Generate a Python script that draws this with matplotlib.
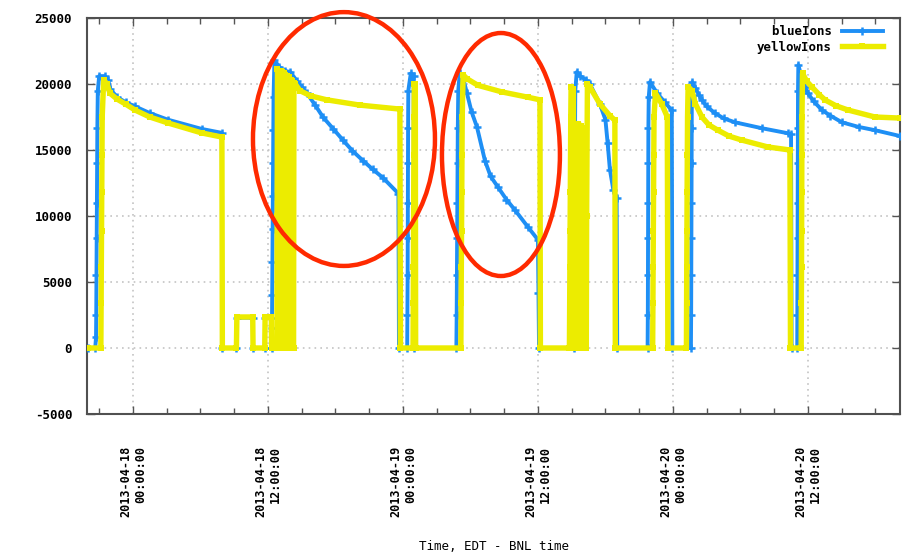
#!/usr/bin/env python3
"""blueIons / yellowIons vs time, 2013-04-17 .. 2013-04-20 (gnuplot-style logger plot)."""
import numpy as np
import matplotlib
matplotlib.use('Agg')
import matplotlib.pyplot as plt
import matplotlib.dates as mdates
from matplotlib.patches import Ellipse

plt.rcParams.update({
    'font.family': ['DejaVu Sans Mono', 'DejaVu Sans'],
    'font.weight': 'bold',
    'axes.unicode_minus': False,
})

# time axis: hours after 2013-04-18 00:00 EDT
T0 = np.datetime64('2013-04-18T00:00:00')
X_START, X_END = -4.04, 68.18

# --- blueIons (hours, ions) ---
blue_hours = [
    -4.00, -3.35, -3.28, -3.26, -3.24, -3.22, -3.20, -3.18, -3.16, -3.12, -3.00, -2.50, -2.20,
    -2.00, -1.40, -0.60, 0.20, 1.50, 3.10, 6.10, 7.90, 7.95, 9.20, 9.24, 10.65, 10.68, 11.72,
    11.75, 12.30, 12.33,
    12.36, 12.38, 12.40, 12.42, 12.44, 12.46, 12.48, 12.50, 12.58, 13.00, 13.50, 14.00, 14.60,
    15.00, 15.47, 16.20, 16.89, 17.80, 18.67, 19.50, 20.44, 21.30, 22.22, 23.60, 23.65, 24.38,
    24.40, 24.42, 24.43, 24.44, 24.45, 24.46, 24.48, 24.70, 24.95, 25.00, 28.75,
    28.78, 28.80, 28.82, 28.84, 28.86, 28.88, 28.92, 29.05, 29.40, 29.69, 30.10, 30.58, 31.29,
    31.80, 32.44, 33.20, 33.96, 35.11, 36.00, 36.05, 36.10, 39.22,
    39.24, 39.26, 39.27, 39.28, 39.29, 39.30, 39.32, 39.45, 39.75, 40.30, 40.62, 41.50, 42.00,
    42.20, 42.40, 42.70, 43.00, 43.05, 45.75,
    45.77, 45.78, 45.79, 45.80, 45.81, 45.82, 45.85, 45.96, 46.60, 47.30, 47.90, 47.95, 49.60,
    49.62, 49.63, 49.64, 49.65, 49.66, 49.67, 49.68, 49.72, 50.00, 50.30, 50.58, 51.00, 51.73,
    52.50, 53.51, 55.91, 58.22, 58.50, 58.55, 59.05,
    59.06, 59.07, 59.08, 59.09, 59.10, 59.11, 59.12, 59.15, 59.50, 59.70, 60.00, 60.50, 61.24,
    62.00, 63.02, 64.50, 65.96, 68.18,
]
blue_ions = [
    0, 0, 800, 2500, 5500, 8300, 11000, 14000, 16700, 19500, 20600, 20600, 20300,
    19600, 19000, 18600, 18300, 17800, 17300, 16600, 16300, 0, 0, 2300, 2300, 0, 0,
    2300, 2300, 0,
    1500, 4000, 6500, 9000, 11500, 14000, 16500, 19000, 21800, 21300, 21000, 20900, 20200,
    19800, 19300, 18400, 17500, 16600, 15750, 14950, 14200, 13550, 12900, 11700, 0, 0,
    2500, 5500, 8300, 11000, 14000, 16700, 19500, 20800, 20600, 0, 0,
    2500, 5500, 8300, 11000, 14000, 16700, 19500, 20800, 20300, 19300, 17900, 16750, 14200,
    13000, 12200, 11250, 10450, 9170, 8200, 4200, 0, 0,
    2500, 5500, 8300, 11000, 14000, 16700, 19500, 20900, 20600, 20300, 20000, 18500, 17300,
    15500, 13500, 12000, 11400, 0, 0,
    2500, 5500, 8300, 11000, 14000, 16700, 19000, 20150, 19300, 18600, 18000, 0, 0,
    2500, 5500, 8300, 11000, 14000, 16700, 19000, 20150, 19700, 19200, 18800, 18300, 17800,
    17400, 17100, 16650, 16270, 16200, 0, 0,
    2500, 5500, 8300, 11000, 14000, 16700, 19500, 21440, 20300, 19800, 19300, 18700, 18030,
    17600, 17100, 16750, 16500, 16060,
]

# --- yellowIons ---
yellow_hours = [
    -4.00, -2.85, -2.83, -2.81, -2.79, -2.77, -2.75, -2.73, -2.60, -2.30, -2.04, -1.40, -0.60,
    0.18, 1.50, 3.11, 6.13, 7.91, 7.95, 9.20, 9.24, 10.65, 10.68, 11.72, 11.75, 12.30, 12.33,
    12.80,
    12.82, 12.85, 12.95, 12.98, 13.10, 13.13, 13.25, 13.28, 13.40, 13.43, 13.55, 13.58, 13.70,
    13.73, 13.85, 13.88, 14.00, 14.03, 14.15, 14.18, 14.28, 14.31, 14.43, 14.84, 15.80, 17.24,
    20.18, 23.73, 23.78, 24.90,
    24.92, 24.94, 24.95, 24.96, 24.97, 24.99, 25.02, 25.10, 25.13, 29.15,
    29.17, 29.19, 29.21, 29.23, 29.25, 29.27, 29.35, 29.69, 30.67, 32.80, 35.11, 36.18, 36.22,
    38.80,
    38.82, 38.84, 38.86, 38.88, 38.90, 38.92, 38.95, 39.15, 39.18, 39.55, 39.60, 39.85, 39.88,
    40.00, 40.03, 40.15, 40.18, 40.30, 40.33, 40.40, 40.62, 41.50, 42.40, 42.84, 42.88, 46.20,
    46.22, 46.24, 46.26, 46.28, 46.30, 46.32, 46.45, 47.00, 47.50, 47.55, 49.20,
    49.22, 49.23, 49.24, 49.26, 49.28, 49.30, 49.35, 49.69, 50.00, 50.58, 51.20, 52.00, 53.00,
    54.13, 56.44, 58.40, 58.45, 59.40,
    59.42, 59.43, 59.44, 59.45, 59.46, 59.47, 59.52, 59.90, 60.36, 61.00, 61.51, 62.50, 63.56,
    65.96, 68.18,
]
yellow_ions = [
    0, 0, 3400, 6100, 8900, 11800, 14600, 17500, 20300, 20000, 19300, 18850, 18450,
    18030, 17500, 17050, 16290, 15980, 0, 0, 2350, 2350, 0, 0, 2350, 2350, 0,
    0,
    10000, 21100, 21000, 0, 0, 21000, 20900, 0, 0, 20800, 20700, 0, 0,
    20600, 20500, 0, 0, 20300, 20200, 0, 0, 20100, 20000, 19500, 19100, 18800,
    18400, 18100, 0, 0,
    3400, 6100, 8900, 11800, 14600, 17500, 20000, 20000, 0, 0,
    3400, 6100, 8900, 11800, 14600, 17500, 20700, 20400, 19900, 19400, 19000, 18800, 0,
    0,
    3400, 6100, 8900, 11800, 14600, 17500, 19800, 19600, 0, 0, 17000, 16800, 0,
    0, 16700, 16600, 0, 0, 10000, 20000, 19770, 18500, 17600, 17250, 0, 0,
    3400, 6100, 8900, 11800, 14600, 17500, 19300, 18500, 17500, 0, 0,
    3400, 6100, 8900, 11800, 14600, 17500, 19800, 19500, 18500, 17500, 16900, 16500, 16050,
    15750, 15230, 15000, 0, 0,
    3400, 6100, 8900, 11800, 14600, 17500, 20800, 20200, 19770, 19200, 18800, 18350, 18030,
    17500, 17420,
]

BLUE = '#1e8ff5'
YELLOW = '#ecec00'
RED = '#ff2a00'


def to_time(hours):
    return T0 + (np.asarray(hours) * 3600).astype('timedelta64[s]')


fig = plt.figure(figsize=(9.13, 5.56), dpi=100)
ax = fig.add_axes([0.0958, 0.2554, 0.8899, 0.7122])

ax.plot(to_time(blue_hours), blue_ions, color=BLUE, lw=2.8, marker='+',
        ms=6, mew=1.8, zorder=3, label='  blueIons')
ax.plot(to_time(yellow_hours), yellow_ions, color=YELLOW, lw=3.9, marker='s',
        ms=5, mew=0, zorder=4, label='yellowIons')

ax.set_xlim(to_time([X_START])[0], to_time([X_END])[0])
ax.set_ylim(-5000, 25000)
ax.set_yticks(np.arange(-5000, 25001, 5000))

ax.xaxis.set_major_locator(mdates.HourLocator(byhour=[0, 12]))
ax.xaxis.set_minor_locator(mdates.HourLocator(byhour=range(0, 24, 3)))
ax.xaxis.set_major_formatter(mdates.DateFormatter('%Y-%m-%d\n%H:%M:%S'))
for lab in ax.get_xticklabels():
    lab.set_rotation(90)
    lab.set_multialignment('right')

ax.tick_params(axis='both', which='both', direction='in', top=True, right=True,
               color='#555555')
ax.tick_params(axis='x', which='major', length=6, width=1, pad=23, labelsize=8.5)
ax.tick_params(axis='x', which='minor', length=4, width=1)
ax.tick_params(axis='y', which='major', length=6, width=1, pad=11, labelsize=9)

ax.grid(which='major', color='#c4c4c4', linestyle=(0, (1, 2.5)), linewidth=1.2, zorder=0)
for sp in ax.spines.values():
    sp.set_color('#505050')
    sp.set_linewidth(1.5)

ax.set_xlabel('Time, EDT - BNL time', fontsize=9)
ax.xaxis.set_label_coords(0.5, -0.318)

leg = ax.legend(loc='upper right', bbox_to_anchor=(0.979, 0.982), markerfirst=False,
                numpoints=1, frameon=False, fontsize=9, borderaxespad=0, borderpad=0,
                handlelength=3.3, handletextpad=0.8, labelspacing=0.2)

# red highlight ellipses (hand-drawn annotation in the source picture)
for cx, cy, w, h in [(0.3157, 0.6944, 0.224, 0.641), (0.5089, 0.6553, 0.1452, 0.6136)]:
    ax.add_patch(Ellipse((cx, cy), w, h, transform=ax.transAxes, fill=False,
                         edgecolor=RED, linewidth=3.2, clip_on=False, zorder=6))

fig.savefig('out.png', dpi=100)
plt.close(fig)
